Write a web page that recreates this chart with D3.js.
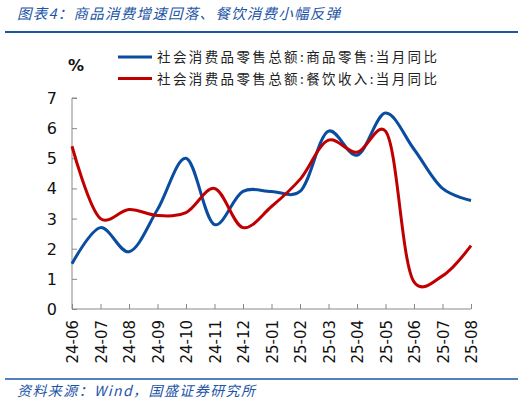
<!DOCTYPE html>
<html lang="zh">
<head>
<meta charset="UTF-8">
<title>图表4</title>
<style>
  body { margin: 0; background: #fff; }
  #chart { width: 531px; height: 404px; }
  .cjk { font-family: "Noto Sans CJK SC", sans-serif; }
  .num { font-family: "DejaVu Sans", Verdana, sans-serif; }
</style>
</head>
<body>
<div id="chart"></div>
<script src="https://d3js.org/d3.v7.min.js"></script>
<script>
const months = ['24-06','24-07','24-08','24-09','24-10','24-11','24-12',
                '25-01','25-02','25-03','25-04','25-05','25-06','25-07','25-08']
const goodsRetail = [1.5, 2.7, 1.9, 3.3, 5.0, 2.8, 3.9, 3.9, 3.9, 5.9, 5.1, 6.5, 5.3, 4.0, 3.6]
const catering    = [5.4, 3.0, 3.3, 3.1, 3.2, 4.0, 2.7, 3.4, 4.3, 5.6, 5.2, 5.9, 0.9, 1.1, 2.1]
const yTicks = [0, 1, 2, 3, 4, 5, 6, 7]
const seriesNames = ['社会消费品零售总额:商品零售:当月同比', '社会消费品零售总额:餐饮收入:当月同比']
const seriesColors = ['#0a4ca0', '#c00000']

const W = 531, H = 404
const plot = { left: 72, right: 471, top: 98, bottom: 309 }
const navy = '#1c55a6'

const svg = d3.select('#chart').append('svg')
  .attr('width', W).attr('height', H)

// header
svg.append('text')
  .attr('class', 'cjk')
  .attr('x', 17).attr('y', 19)
  .attr('font-size', 14.5).attr('font-style', 'italic')
  .attr('fill', navy)
  .attr('textLength', 323).attr('lengthAdjust', 'spacing')
  .text('图表4：商品消费增速回落、餐饮消费小幅反弹')
svg.append('line')
  .attr('x1', 5).attr('x2', 518).attr('y1', 32).attr('y2', 32)
  .attr('stroke', navy).attr('stroke-width', 2)

// footer
svg.append('line')
  .attr('x1', 5).attr('x2', 518).attr('y1', 379).attr('y2', 379)
  .attr('stroke', navy).attr('stroke-width', 1.5)
svg.append('text')
  .attr('class', 'cjk')
  .attr('x', 17).attr('y', 396)
  .attr('font-size', 14).attr('font-style', 'italic')
  .attr('fill', navy)
  .attr('textLength', 238).attr('lengthAdjust', 'spacing')
  .text('资料来源：Wind，国盛证券研究所')

const x = d3.scalePoint().domain(months).range([plot.left, plot.right])
const y = d3.scaleLinear().domain([0, 7]).range([plot.bottom, plot.top])

// y axis
const yAxis = svg.append('g')
  .attr('transform', `translate(${plot.left},0)`)
  .call(d3.axisRight(y).tickValues(yTicks).tickSize(5).tickFormat(''))
yAxis.selectAll('path, line').attr('stroke', '#888')
yAxis.select('.domain').attr('d', `M5,${plot.top}H0V${plot.bottom}`)

svg.append('g').selectAll('text')
  .data(yTicks).join('text')
  .attr('class', 'num')
  .attr('x', 57).attr('y', d => y(d) + 6)
  .attr('text-anchor', 'end')
  .attr('font-size', 16).attr('fill', '#111')
  .text(d => d)

svg.append('text')
  .attr('class', 'num')
  .attr('x', 68).attr('y', 71)
  .attr('font-size', 16).attr('font-weight', 'bold').attr('fill', '#111')
  .text('%')

// x axis
const xAxis = svg.append('g')
  .attr('transform', `translate(0,${plot.bottom})`)
  .call(d3.axisTop(x).tickSize(5).tickFormat(''))
xAxis.selectAll('path, line').attr('stroke', '#888')
xAxis.select('.domain').attr('d', `M${plot.left},0H${plot.right}`)

svg.append('g').selectAll('text')
  .data(months).join('text')
  .attr('class', 'num')
  .attr('transform', d => `translate(${x(d) + 6},320) rotate(-90)`)
  .attr('text-anchor', 'end')
  .attr('font-size', 15).attr('fill', '#111')
  .text(d => d)

// lines (smoothed like the original spreadsheet chart)
const line = d3.line()
  .x((d, i) => x(months[i]))
  .y(d => y(d))
  .curve(d3.curveCatmullRom.alpha(0.25))

;[goodsRetail, catering].forEach((vals, k) => {
  svg.append('path')
    .datum(vals)
    .attr('d', line)
    .attr('fill', 'none')
    .attr('stroke', seriesColors[k])
    .attr('stroke-width', 3)
})

// legend
const legend = svg.append('g')
seriesNames.forEach((name, k) => {
  const ly = 57 + k * 21.5
  legend.append('line')
    .attr('x1', 118).attr('x2', 152).attr('y1', ly).attr('y2', ly)
    .attr('stroke', seriesColors[k]).attr('stroke-width', 3)
  legend.append('text')
    .attr('class', 'cjk')
    .attr('x', 157).attr('y', ly + 5)
    .attr('font-size', 13.5).attr('fill', '#222')
    .attr('textLength', 280).attr('lengthAdjust', 'spacing')
    .text(name)
})
</script>
</body>
</html>
